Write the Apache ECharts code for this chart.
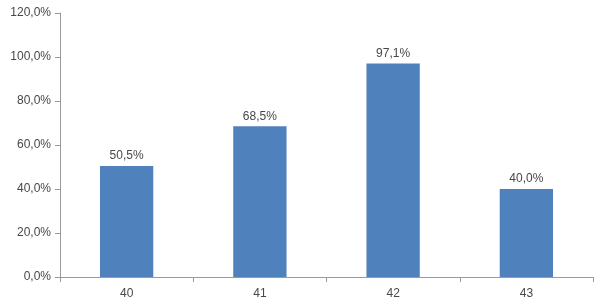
<!DOCTYPE html>
<html>
<head>
<meta charset="utf-8">
<script src="https://cdn.jsdelivr.net/npm/echarts@6/dist/echarts.min.js"></script>
<style>html,body{margin:0;padding:0;background:#fff}#c{width:600px;height:307px}</style>
</head>
<body>
<div id="c"></div>
<script>
var categories = ['40', '41', '42', '43'];
var values = [50.5, 68.5, 97.1, 40.0];
var yMin = 0, yMax = 120, yInterval = 20;

function pct(v) { return v.toFixed(1).replace('.', ',') + '%'; }

var chart = echarts.init(document.getElementById('c'), null, {renderer: 'canvas'});
chart.setOption({
  animation: false,
  backgroundColor: '#ffffff',
  textStyle: {fontFamily: 'Liberation Sans, Arial, sans-serif'},
  grid: {left: 60, right: 7, top: 13, bottom: 30, containLabel: false},
  xAxis: {
    type: 'category',
    data: categories,
    axisLine: {lineStyle: {color: '#9a9a9a', width: 1}},
    axisTick: {show: true, alignWithLabel: false, length: 5, lineStyle: {color: '#9a9a9a'}},
    axisLabel: {color: '#474747', fontSize: 12, margin: 11}
  },
  yAxis: {
    type: 'value',
    min: yMin, max: yMax, interval: yInterval,
    axisLine: {show: true, lineStyle: {color: '#9a9a9a', width: 1}},
    axisTick: {show: true, length: 5, lineStyle: {color: '#9a9a9a'}},
    splitLine: {show: false},
    axisLabel: {color: '#474747', fontSize: 12, margin: 9, formatter: function (v) { return pct(v); }}
  },
  series: [{
    type: 'bar',
    data: values,
    barWidth: '40%',
    itemStyle: {color: '#4f81bd'},
    label: {show: true, position: 'top', distance: 4, color: '#474747', fontSize: 12,
      formatter: function (p) { return pct(p.value); }}
  }]
});
</script>
</body>
</html>
